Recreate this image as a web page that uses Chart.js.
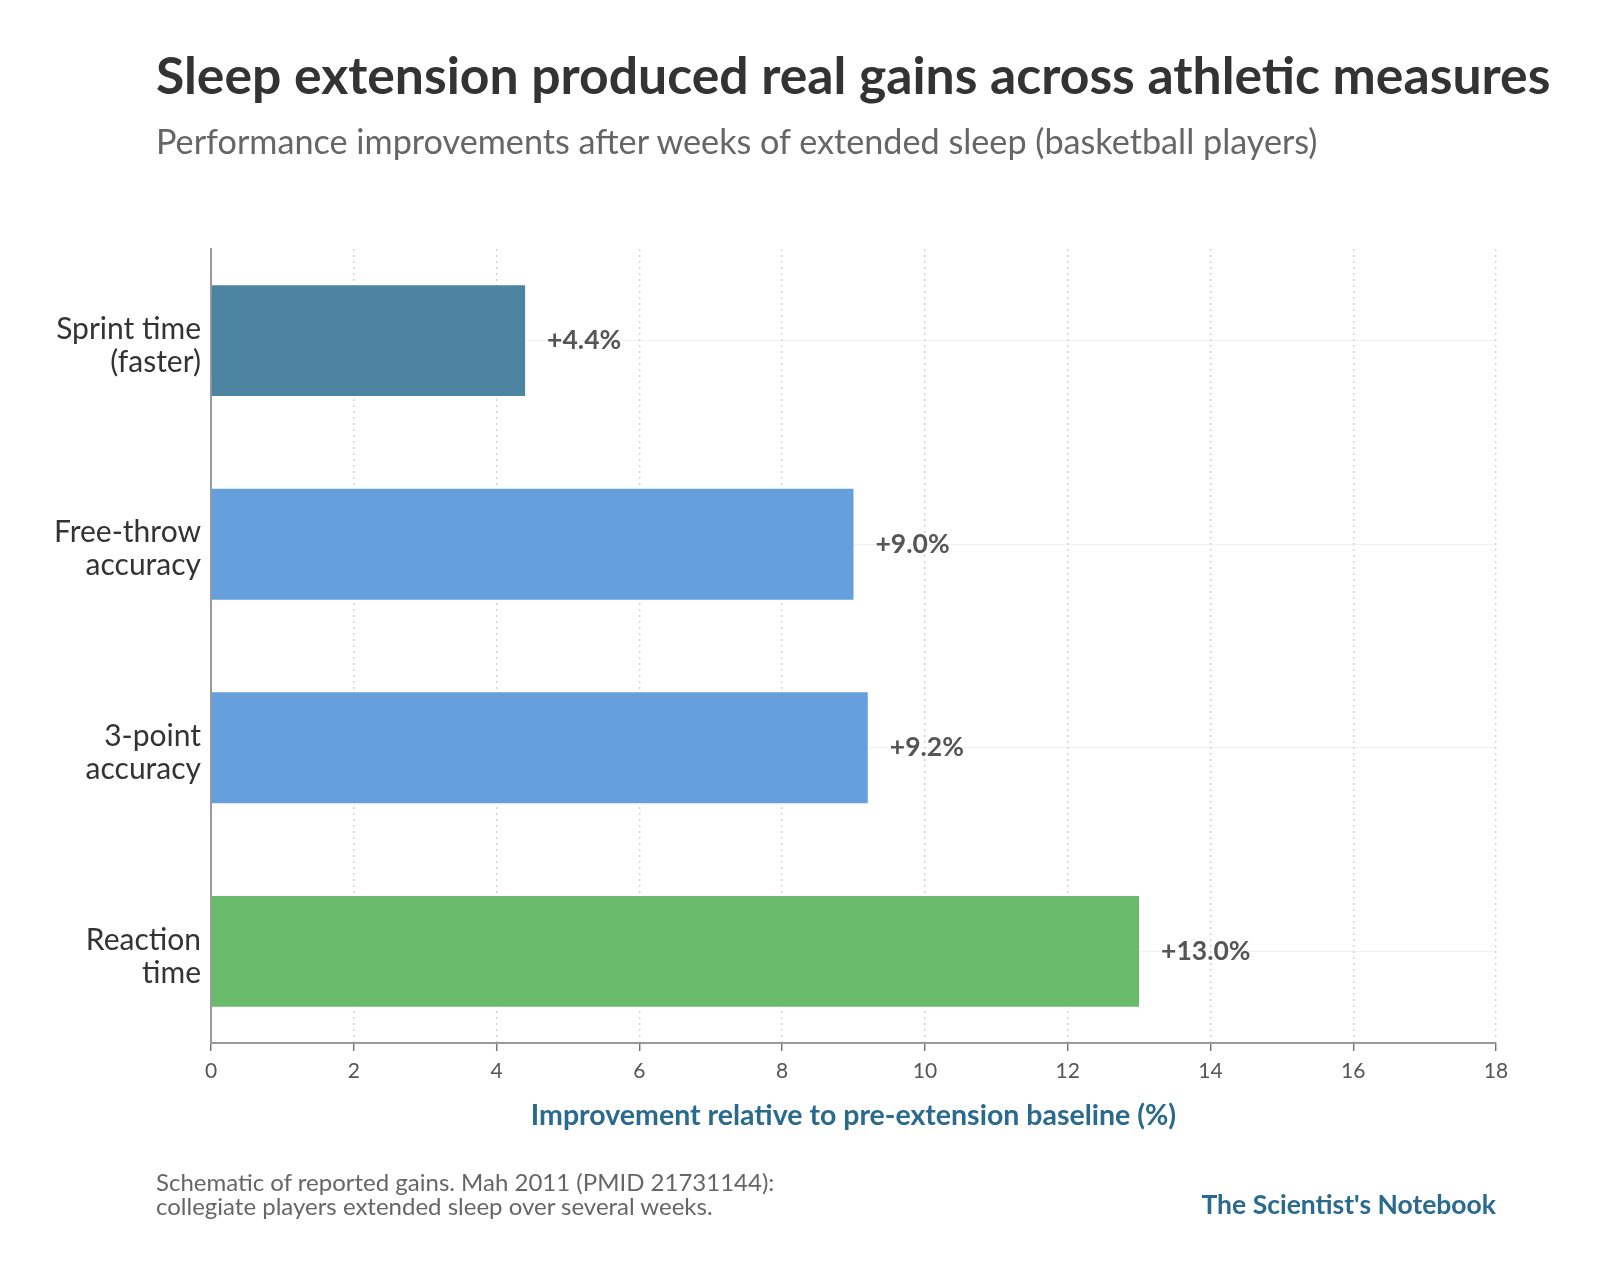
<!DOCTYPE html>
<html>
<head>
<meta charset="utf-8">
<script src="https://cdn.jsdelivr.net/npm/chart.js@4.4.1/dist/chart.umd.min.js"></script>
<style>
  html, body { margin: 0; padding: 0; background: #ffffff; }
  #wrap { position: relative; width: 1604px; height: 1273px; overflow: hidden; font-family: Lato, "Noto Sans", sans-serif; }
  #c { position: absolute; left: 0; top: 0; }
  .t { position: absolute; white-space: nowrap; line-height: 1; }
  #title { left: 156px; top: 49px; font-size: 51.7px; font-weight: 700; color: #333333; }
  #subtitle { left: 156px; top: 123.5px; font-size: 34.2px; font-weight: 400; color: #666666; }
  #note { left: 156px; top: 1169.5px; font-size: 24px; line-height: 24.6px; color: #666666; }
  #brand { right: 108px; top: 1190.5px; font-size: 26.5px; font-weight: 700; color: #2a6a8e; }
</style>
</head>
<body>
<div id="wrap">
  <canvas id="c" width="1604" height="1273"></canvas>
  <div class="t" id="title">Sleep extension produced real gains across athletic measures</div>
  <div class="t" id="subtitle">Performance improvements after weeks of extended sleep (basketball players)</div>
  <div class="t" id="note">Schematic of reported gains. Mah 2011 (PMID 21731144):<br>collegiate players extended sleep over several weeks.</div>
  <div class="t" id="brand">The Scientist's Notebook</div>
</div>
<script>
const categories = [["Sprint time", "(faster)"], ["Free-throw", "accuracy"], ["3-point", "accuracy"], ["Reaction", "time"]];
const values = [4.4, 9.0, 9.2, 13.0];
const barColors = ["#4c84a2", "#65a0dc", "#65a0dc", "#69bb6b"];
const xTicks = [0, 2, 4, 6, 8, 10, 12, 14, 16, 18];
const xTitle = "Improvement relative to pre-extension baseline (%)";

const FONT = 'Lato, "Noto Sans", sans-serif';

const valueLabels = {
  id: 'valueLabels',
  afterDatasetsDraw(chart) {
    const ctx = chart.ctx;
    const meta = chart.getDatasetMeta(0);
    ctx.save();
    ctx.font = '700 26.5px ' + FONT;
    ctx.fillStyle = '#555555';
    ctx.textAlign = 'left';
    ctx.textBaseline = 'middle';
    meta.data.forEach((bar, i) => {
      ctx.fillText('+' + values[i].toFixed(1) + '%', bar.x + 22, bar.y);
    });
    ctx.restore();
  }
};

new Chart(document.getElementById('c'), {
  type: 'bar',
  data: {
    datasets: [{
      data: values.map((v, i) => ({ x: v, y: i })),
      backgroundColor: barColors,
      borderWidth: 0,
      categoryPercentage: 1.0,
      barPercentage: 0.545
    }]
  },
  options: {
    indexAxis: 'y',
    responsive: false,
    animation: false,
    devicePixelRatio: 1,
    layout: { padding: { left: 0, right: 108, top: 249, bottom: 0 } },
    plugins: { legend: { display: false }, tooltip: { enabled: false }, title: { display: false } },
    scales: {
      y: {
        type: 'linear',
        min: -0.45,
        max: 3.45,
        reverse: true,
        offset: false,
        afterBuildTicks(scale) { scale.ticks = categories.map((c, i) => ({ value: i })); },
        afterFit(scale) { scale.width = 211; },
        ticks: {
          callback: (v) => categories[v],
          color: '#333333',
          padding: 10,
          labelOffset: 5,
          font: { family: FONT, size: 30, lineHeight: 1.1 }
        },
        grid: { offset: false, drawTicks: false, color: '#f1f1f1', lineWidth: 1 },
        border: { display: true, color: '#9a9a9a', width: 2 }
      },
      x: {
        type: 'linear',
        min: 0,
        max: 18,
        afterBuildTicks(scale) { scale.ticks = xTicks.map(v => ({ value: v })); },
        afterFit(scale) { scale.height = 230; },
        ticks: {
          color: '#555555',
          padding: 8,
          font: { family: FONT, size: 21 }
        },
        grid: {
          color: '#d2d2d2',
          lineWidth: 1.4,
          drawTicks: true,
          tickLength: 8,
          tickColor: '#777777',
          tickWidth: 1.5,
          tickBorderDash: []
        },
        border: { display: true, color: '#9a9a9a', width: 2, dash: [2, 4] },
        title: {
          display: true,
          text: xTitle,
          color: '#2a6a8e',
          font: { family: FONT, size: 28.5, weight: '700' },
          padding: { top: 10, bottom: 140 }
        }
      }
    }
  },
  plugins: [valueLabels]
});
</script>
</body>
</html>
